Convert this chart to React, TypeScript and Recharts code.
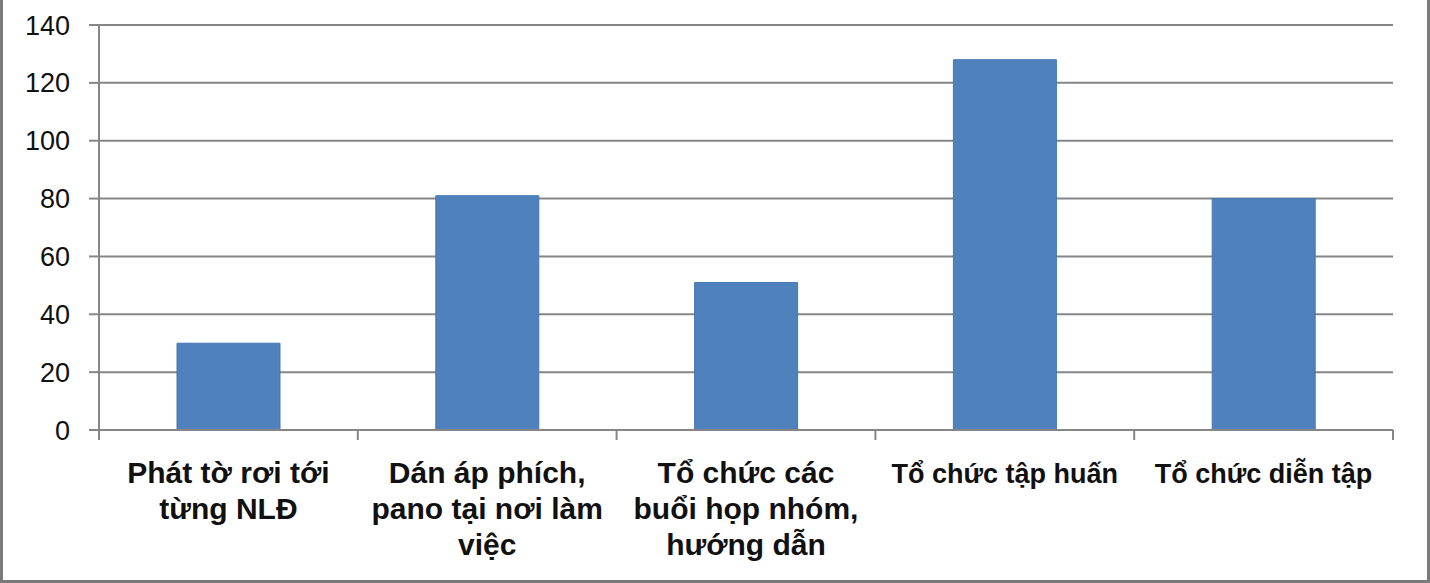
import React from 'react';
import { BarChart, Bar, XAxis, YAxis, CartesianGrid } from 'recharts';

// các hạng mục tuyên truyền
const categories = [
  'Phát tờ rơi tới từng NLĐ',
  'Dán áp phích, pano tại nơi làm việc',
  'Tổ chức các buổi họp nhóm, hướng dẫn',
  'Tổ chức tập huấn',
  'Tổ chức diễn tập',
];

// nhãn trục X xuống dòng như hình gốc
const labelLines = [
  ['Phát tờ rơi tới', 'từng NLĐ'],
  ['Dán áp phích,', 'pano tại nơi làm', 'việc'],
  ['Tổ chức các', 'buổi họp nhóm,', 'hướng dẫn'],
  ['Tổ chức tập huấn'],
  ['Tổ chức diễn tập'],
];

const counts = [30, 81, 51, 128, 80];

const yTicks = [0, 20, 40, 60, 80, 100, 120, 140];

const data = categories.map((name, i) => ({ name, value: counts[i] }));

const W = 1430;
const H = 583;
const AXIS = '#868686';
const FONT = '"Liberation Sans", Arial, sans-serif';

const CategoryTick = (props: any) => {
  const { x, y, payload, index } = props;
  const half = payload?.offset || (W - 99 - 37) / categories.length / 2;
  const lines = labelLines[index] || [];
  const size = lines.length > 1 ? 30 : 27;
  return (
    <g>
      <line x1={x - half} x2={x - half} y1={y} y2={y + 10} stroke={AXIS} strokeWidth={2} />
      {index === categories.length - 1 && (
        <line x1={x + half} x2={x + half} y1={y} y2={y + 10} stroke={AXIS} strokeWidth={2} />
      )}
      <text
        x={x}
        y={y + 53}
        textAnchor="middle"
        fontFamily={FONT}
        fontWeight="bold"
        fontSize={size}
        fill="#111"
      >
        {lines.map((l, i) => (
          <tspan key={i} x={x} dy={i === 0 ? 0 : 36}>
            {l}
          </tspan>
        ))}
      </text>
    </g>
  );
};

export default function App() {
  return (
    <div style={{ position: 'relative', width: W, height: H, background: '#fff' }}>
      <style>{'body{margin:0}'}</style>
      <BarChart
        width={W}
        height={H}
        data={data}
        margin={{ top: 25, right: 37, bottom: 0, left: 0 }}
        barCategoryGap={78}
      >
        <CartesianGrid vertical={false} stroke={AXIS} strokeWidth={2} />
        <XAxis
          dataKey="name"
          height={153}
          interval={0}
          tickSize={0}
          tickMargin={0}
          tickLine={false}
          axisLine={{ stroke: AXIS, strokeWidth: 2 }}
          tick={<CategoryTick />}
        />
        <YAxis
          width={99}
          domain={[0, 140]}
          ticks={yTicks}
          interval={0}
          tickSize={10}
          tickMargin={19}
          axisLine={{ stroke: AXIS, strokeWidth: 2 }}
          tickLine={{ stroke: AXIS, strokeWidth: 2 }}
          tick={{ fill: '#111', fontSize: 27, fontFamily: FONT }}
        />
        <Bar dataKey="value" fill="#4F81BD" stroke="#4677b3" strokeWidth={1} isAnimationActive={false} />
      </BarChart>
      <div
        style={{
          position: 'absolute',
          left: 0,
          top: 0,
          width: W,
          height: H,
          boxSizing: 'border-box',
          borderLeft: '3px solid #7a7a7a',
          borderRight: '3px solid #7a7a7a',
          borderBottom: '3px solid #7a7a7a',
          pointerEvents: 'none',
        }}
      />
    </div>
  );
}
